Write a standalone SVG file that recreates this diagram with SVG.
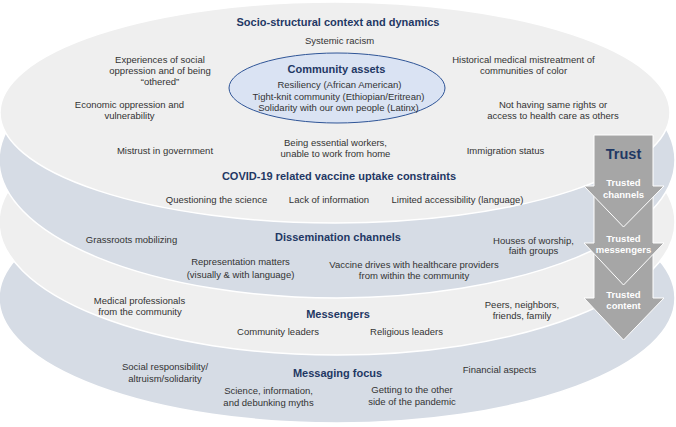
<svg xmlns="http://www.w3.org/2000/svg" width="676" height="427" viewBox="0 0 676 427">
<style>
.light{fill:#EFEFEF;stroke:#FFFFFF;stroke-width:1.5}
.blue{fill:#D6DCE5;stroke:#FFFFFF;stroke-width:1.5}
text{font-family:"Liberation Sans",Arial,sans-serif;text-anchor:middle}
.t{font-size:9.5px;fill:#333333}
.h{font-size:11px;font-weight:bold;fill:#1F3864}
.arr{fill:#A6A6A6;stroke:#FFFFFF;stroke-width:1}
.at{font-size:9.5px;font-weight:bold;fill:#FFFFFF}
.trust{font-size:14.5px;font-weight:bold;fill:#1F3864}
.assets{fill:#DAE3F3;stroke:#2F5597;stroke-width:1}
</style>
<rect width="676" height="427" fill="#FFFFFF"/>

<g id="layer-messaging-focus">
  <ellipse class="blue" cx="337" cy="298" rx="338" ry="125"/>
  <text class="h" x="337.5" y="377.3">Messaging focus</text>
  <g id="social-responsibility"><text class="t" x="165" y="370.2">Social responsibility/</text><text class="t" x="165" y="381.8">altruism/solidarity</text></g>
  <g id="science-information"><text class="t" x="268.5" y="394.2">Science, information,</text><text class="t" x="268.5" y="406.2">and debunking myths</text></g>
  <g id="other-side"><text class="t" x="412" y="392.8">Getting to the other</text><text class="t" x="412" y="404.5">side of the pandemic</text></g>
  <g id="financial"><text class="t" x="499.5" y="372.5">Financial aspects</text></g>
</g>

<g id="layer-messengers">
  <ellipse class="light" cx="337" cy="222" rx="338" ry="133"/>
  <text class="h" x="338" y="318">Messengers</text>
  <g id="medical-professionals"><text class="t" x="139.5" y="303.5">Medical professionals</text><text class="t" x="140" y="315.2">from the community</text></g>
  <g id="community-leaders"><text class="t" x="278" y="335.2">Community leaders</text></g>
  <g id="religious-leaders"><text class="t" x="406.5" y="335.2">Religious leaders</text></g>
  <g id="peers"><text class="t" x="522" y="307.5">Peers, neighbors,</text><text class="t" x="522" y="319.2">friends, family</text></g>
</g>

<g id="layer-dissemination">
  <ellipse class="blue" cx="337" cy="160" rx="338" ry="138"/>
  <text class="h" x="338" y="241.3">Dissemination channels</text>
  <g id="grassroots"><text class="t" x="131.5" y="242.5">Grassroots mobilizing</text></g>
  <g id="representation"><text class="t" x="240.5" y="265.2">Representation matters</text><text class="t" x="240.5" y="277.8">(visually &amp; with language)</text></g>
  <g id="vaccine-drives"><text class="t" x="414" y="267.5">Vaccine drives with healthcare providers</text><text class="t" x="414" y="279.2">from within the community</text></g>
  <g id="houses-of-worship"><text class="t" x="533.5" y="243.5">Houses of worship,</text><text class="t" x="533.5" y="254.2">faith groups</text></g>
</g>

<g id="layer-socio-structural">
  <ellipse class="light" cx="335" cy="112.5" rx="335" ry="110.5"/>
  <text class="h" x="338" y="25.7">Socio-structural context and dynamics</text>
  <g id="systemic-racism"><text class="t" x="339.5" y="44.2">Systemic racism</text></g>
  <g id="social-oppression"><text class="t" x="160" y="62.5">Experiences of social</text><text class="t" x="160" y="73.8">oppression and of being</text><text class="t" x="160" y="84.8">“othered”</text></g>
  <g id="economic-oppression"><text class="t" x="129.5" y="107.8">Economic oppression and</text><text class="t" x="129.5" y="119.2">vulnerability</text></g>
  <g id="mistrust"><text class="t" x="165" y="154.2">Mistrust in government</text></g>
  <g id="essential-workers"><text class="t" x="335.5" y="145.8">Being essential workers,</text><text class="t" x="335.5" y="157.2">unable to work from home</text></g>
  <g id="historical-mistreatment"><text class="t" x="523.5" y="62.5">Historical medical mistreatment of</text><text class="t" x="523.5" y="73.8">communities of color</text></g>
  <g id="rights-access"><text class="t" x="553" y="107.8">Not having same rights or</text><text class="t" x="553" y="119.2">access to health care as others</text></g>
  <g id="immigration"><text class="t" x="505.5" y="154.2">Immigration status</text></g>
  <g id="community-assets">
    <ellipse class="assets" cx="337" cy="88" rx="108" ry="35"/>
    <text class="h" x="336.5" y="73">Community assets</text>
    <text class="t" x="339.5" y="87.8">Resiliency (African American)</text>
    <text class="t" x="338.5" y="99.8">Tight-knit community (Ethiopian/Eritrean)</text>
    <text class="t" x="338.5" y="111.2">Solidarity with our own people (Latinx)</text>
  </g>
</g>

<g id="layer-covid">
  <text class="h" x="339" y="180">COVID-19 related vaccine uptake constraints</text>
  <g id="questioning"><text class="t" x="216.5" y="202.5">Questioning the science</text></g>
  <g id="lack-information"><text class="t" x="329" y="202.5">Lack of information</text></g>
  <g id="limited-accessibility"><text class="t" x="457.5" y="202.5">Limited accessibility (language)</text></g>
</g>

<g id="connectors">
  <g id="trusted-content">
    <path class="arr" d="M594,250 H653 V298 H664 L623.5,340 L584,298 H594 Z"/>
    <text class="at" x="623.5" y="297.5">Trusted</text>
    <text class="at" x="623.5" y="308.5">content</text>
  </g>
  <g id="trusted-messengers">
    <path class="arr" d="M594,195 H653 V243 H664 L623.5,285 L584,243 H594 Z"/>
    <text class="at" x="623.5" y="241.8">Trusted</text>
    <text class="at" x="623.5" y="252.8">messengers</text>
  </g>
  <g id="trusted-channels">
    <path class="arr" d="M594,135 H653 V186 H664 L623.5,227 L584,186 H594 Z"/>
    <text class="trust" x="623.5" y="159">Trust</text>
    <text class="at" x="623.5" y="186">Trusted</text>
    <text class="at" x="623.5" y="197.5">channels</text>
  </g>
</g>
</svg>
